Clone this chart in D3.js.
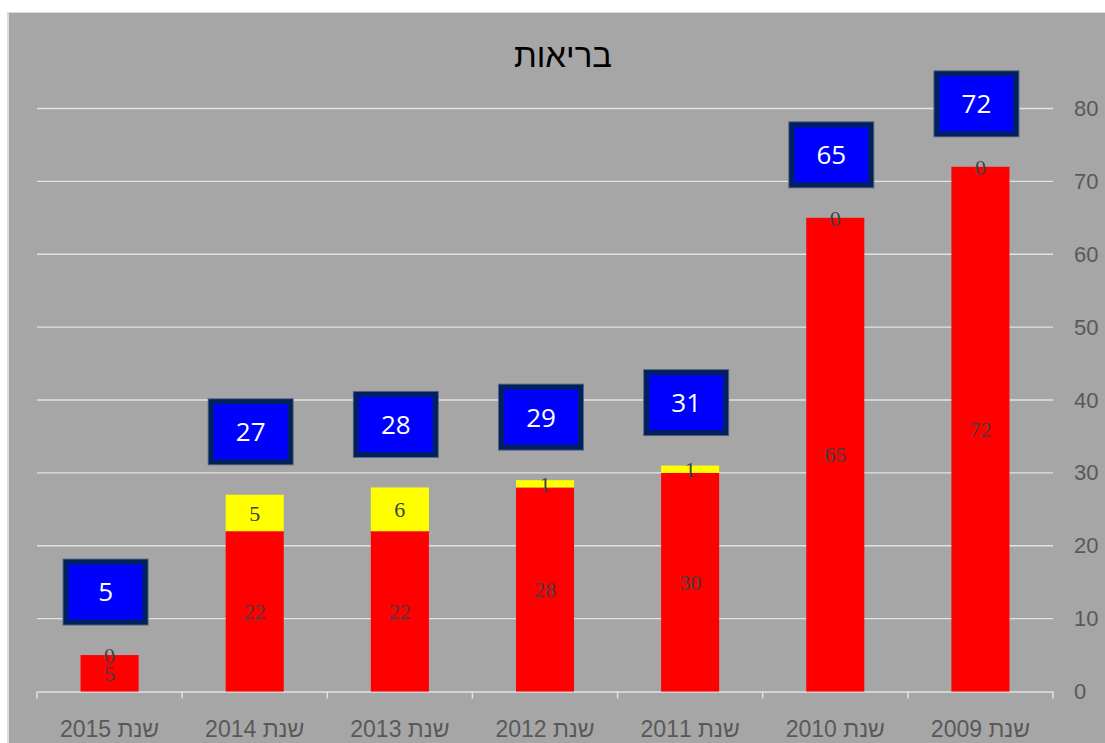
<!DOCTYPE html>
<html>
<head>
<meta charset="utf-8">
<script src="https://cdn.jsdelivr.net/npm/d3@7/dist/d3.min.js"></script>
<style>
  html, body { margin: 0; padding: 0; background: #ffffff; }
  svg { display: block; }
</style>
</head>
<body>
<script>
const categories = ["שנת 2015", "שנת 2014", "שנת 2013", "שנת 2012", "שנת 2011", "שנת 2010", "שנת 2009"];
const redValues = [5, 22, 22, 28, 30, 65, 72];
const yellowValues = [0, 5, 6, 1, 1, 0, 0];
const totalValues = [5, 27, 28, 29, 31, 65, 72];
const yTickValues = [0, 10, 20, 30, 40, 50, 60, 70, 80];
const title = "בריאות";

const W = 1105, H = 743;
const svg = d3.select("body").append("svg").attr("width", W).attr("height", H);

// chart background
svg.append("rect").attr("x", 7).attr("y", 12).attr("width", W - 7).attr("height", H - 12)
  .attr("fill", "#dcdcdc");
svg.append("rect").attr("x", 9).attr("y", 13).attr("width", W - 9).attr("height", H - 13)
  .attr("fill", "#a6a6a6");

const x = d3.scaleBand().domain(categories).range([37, 1053]).paddingInner(0).paddingOuter(0);
const y = d3.scaleLinear().domain([0, 80]).range([691.5, 108.5]);
const barW = x.bandwidth() * 0.4;

// title
svg.append("text").attr("x", 563).attr("y", 67).attr("text-anchor", "middle")
  .attr("font-family", "Liberation Sans, Arial, sans-serif").attr("font-size", 33)
  .attr("fill", "#000").text(title);

// gridlines
svg.append("g").selectAll("line").data(yTickValues.filter(d => d > 0)).join("line")
  .attr("x1", 37).attr("x2", 1053).attr("y1", d => y(d)).attr("y2", d => y(d))
  .attr("stroke", "#e2e2e2").attr("stroke-width", 1.3);

// y axis labels (right)
const yAxis = d3.axisRight(y).tickValues(yTickValues).tickSize(0).tickPadding(0);
const gy = svg.append("g").attr("transform", "translate(1074,0)").call(yAxis);
gy.select(".domain").remove();
gy.selectAll("text").attr("font-family", "Liberation Sans, Arial, sans-serif")
  .attr("font-size", 22).attr("fill", "#595959").attr("x", 0).attr("text-anchor", "start");

// x axis
const xAxis = d3.axisBottom(x).tickSize(0).tickPadding(0);
const gx = svg.append("g").attr("transform", `translate(0,${y(0)})`).call(xAxis);
gx.select(".domain").attr("stroke", "#e2e2e2").attr("stroke-width", 1.5);
gx.selectAll("text").attr("font-family", "Liberation Sans, Arial, sans-serif")
  .attr("font-size", 23).attr("fill", "#595959").attr("y", 29)
  .style("direction", "rtl").style("unicode-bidi", "embed");
// boundary ticks
const boundaries = categories.map(c => x(c)).concat([x(categories[categories.length - 1]) + x.bandwidth()]);
svg.append("g").selectAll("line").data(boundaries).join("line")
  .attr("x1", d => d).attr("x2", d => d).attr("y1", y(0)).attr("y2", y(0) + 7)
  .attr("stroke", "#e2e2e2").attr("stroke-width", 1.5);

const rows = categories.map((c, i) => ({ c, red: redValues[i], yellow: yellowValues[i], total: totalValues[i] }));

// red bars
svg.append("g").selectAll("rect").data(rows).join("rect")
  .attr("x", d => x(d.c) + (x.bandwidth() - barW) / 2).attr("width", barW)
  .attr("y", d => y(d.red)).attr("height", d => y(0) - y(d.red)).attr("fill", "#ff0000");
// yellow bars
svg.append("g").selectAll("rect").data(rows.filter(d => d.yellow > 0)).join("rect")
  .attr("x", d => x(d.c) + (x.bandwidth() - barW) / 2).attr("width", barW)
  .attr("y", d => y(d.red + d.yellow)).attr("height", d => y(d.red) - y(d.red + d.yellow)).attr("fill", "#ffff00");

const labelFont = "Liberation Serif, Times New Roman, serif";
// red labels
svg.append("g").selectAll("text").data(rows).join("text")
  .attr("x", d => x(d.c) + x.bandwidth() / 2).attr("y", d => y(d.red / 2))
  .attr("dy", "0.35em").attr("text-anchor", "middle")
  .attr("font-family", labelFont).attr("font-size", 22).attr("fill", "#404040")
  .text(d => d.red);
// yellow labels
svg.append("g").selectAll("text").data(rows).join("text")
  .attr("x", d => x(d.c) + x.bandwidth() / 2).attr("y", d => y(d.red + d.yellow / 2))
  .attr("dy", "0.35em").attr("text-anchor", "middle")
  .attr("font-family", labelFont).attr("font-size", 22).attr("fill", "#404040")
  .text(d => d.yellow);

// total boxes
const boxW = 86, boxH = 67, sw = 5;
const boxes = svg.append("g").selectAll("g").data(rows).join("g")
  .attr("transform", d => `translate(${x(d.c) + x.bandwidth() / 2 - 4},${y(d.total) - 63})`);
boxes.append("rect").attr("x", -boxW / 2).attr("y", -boxH / 2).attr("width", boxW).attr("height", boxH)
  .attr("fill", "#55627f");
boxes.append("rect").attr("x", -boxW / 2 + 1 + sw / 2).attr("y", -boxH / 2 + 1 + sw / 2)
  .attr("width", boxW - 2 - sw).attr("height", boxH - 2 - sw)
  .attr("fill", "#0000ff").attr("stroke", "#002060").attr("stroke-width", sw);
boxes.append("text").attr("text-anchor", "middle").attr("dy", "0.36em")
  .attr("font-family", "Open Sans, Noto Sans, sans-serif").attr("font-size", 26)
  .attr("fill", "#ffffff").text(d => d.total);
</script>
</body>
</html>
